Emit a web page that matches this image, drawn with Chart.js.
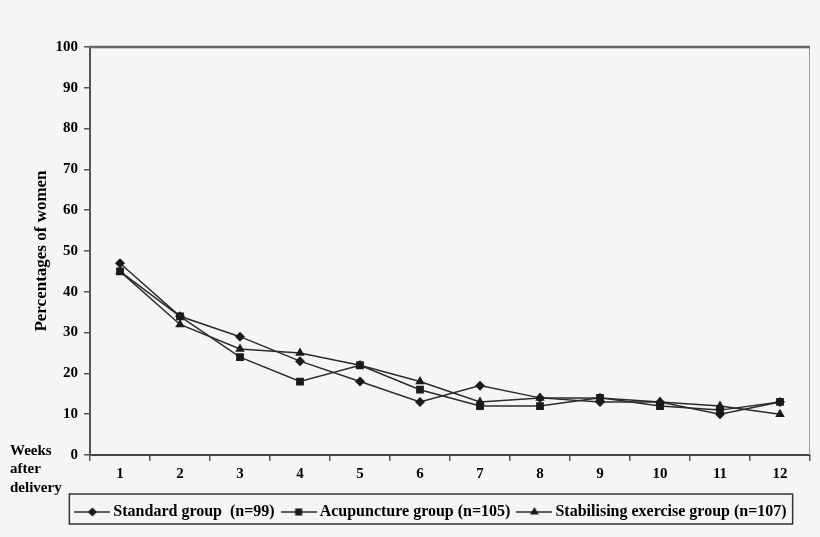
<!DOCTYPE html>
<html>
<head>
<meta charset="utf-8">
<script src="https://cdn.jsdelivr.net/npm/chart.js@4.4.1/dist/chart.umd.min.js"></script>
<style>
  html, body { margin: 0; padding: 0; background: #f5f5f5; }
  #wrap { width: 820px; height: 537px; position: relative; }
</style>
</head>
<body>
<div id="wrap"><canvas id="chart"></canvas></div>
<script>
// ── Données ───────────────────────────────────────────────────
var weeks        = ['1', '2', '3', '4', '5', '6', '7', '8', '9', '10', '11', '12'];
var standard     = [47, 34, 29, 23, 18, 13, 17, 14, 13, 13, 10, 13];
var acupuncture  = [45, 34, 24, 18, 22, 16, 12, 12, 14, 12, 11, 13];
var stabilising  = [45, 32, 26, 25, 22, 18, 13, 14, 14, 13, 12, 10];
var seriesNames  = ['Standard group  (n=99)', 'Acupuncture group (n=105)', 'Stabilising exercise group (n=107)'];
var yTitle       = 'Percentages of women';
var xNote        = ['Weeks', 'after', 'delivery'];

var SERIF = '"Liberation Serif", "Times New Roman", serif';
var INK   = '#2b2b2b';

// petit pictogramme "ligne + marqueur" pour la légende
function legendIcon(style, r) {
    var c = document.createElement('canvas');
    c.width = 36; c.height = 16;
    var g = c.getContext('2d');
    g.strokeStyle = INK; g.lineWidth = 1.5;
    g.beginPath(); g.moveTo(0, 8); g.lineTo(36, 8); g.stroke();
    g.fillStyle = '#1a1a1a';
    g.beginPath();
    if (style === 'rectRot') {
        g.moveTo(18, 8 - r); g.lineTo(18 + r, 8); g.lineTo(18, 8 + r); g.lineTo(18 - r, 8);
    } else if (style === 'rect') {
        var h = r * Math.SQRT1_2;
        g.rect(18 - h, 8 - h, 2 * h, 2 * h);
    } else {
        g.moveTo(18, 8 - r); g.lineTo(18 + r * 0.87, 8 + r * 0.5); g.lineTo(18 - r * 0.87, 8 + r * 0.5);
    }
    g.closePath(); g.fill();
    return c;
}

function series(label, data, style, r) {
    return {
        label: label,
        data: data,
        borderColor: INK,
        borderWidth: 1.5,
        backgroundColor: '#1a1a1a',
        pointStyle: style,
        pointRadius: r,
        pointBorderWidth: 0,
        pointBackgroundColor: '#1a1a1a',
        tension: 0,
        fill: false,
        _icon: legendIcon(style, r - 0.5)
    };
}

// cadre haut/droite + note "Weeks after delivery" + bordure de légende
var decor = {
    id: 'decor',
    afterLayout: function (chart) {
        chart.legend.left += 14;
        chart.legend.right += 14;
    },
    beforeDatasetsDraw: function (chart) {
        var a = chart.chartArea, ctx = chart.ctx;
        ctx.save();
        ctx.strokeStyle = '#9a9a9a'; ctx.lineWidth = 1;
        ctx.beginPath(); ctx.moveTo(a.right - 0.5, a.top); ctx.lineTo(a.right - 0.5, a.bottom); ctx.stroke();
        ctx.strokeStyle = '#666'; ctx.lineWidth = 2.5;
        ctx.beginPath(); ctx.moveTo(a.left, a.top); ctx.lineTo(a.right, a.top); ctx.stroke();
        ctx.restore();
    },
    afterDraw: function (chart) {
        var ctx = chart.ctx, a = chart.chartArea;
        ctx.save();
        ctx.fillStyle = '#000';
        ctx.font = 'bold 15px ' + SERIF;
        ctx.textBaseline = 'middle';
        ctx.textAlign = 'left';
        xNote.forEach(function (t, i) { ctx.fillText(t, 10, a.bottom - 4 + i * 18.5); });

        var hb = chart.legend.legendHitBoxes;
        if (hb && hb.length) {
            var l = hb[0].left, r = hb[hb.length - 1].left + hb[hb.length - 1].width;
            var t = hb[0].top, b = hb[0].top + hb[0].height;
            ctx.strokeStyle = '#333'; ctx.lineWidth = 1.5;
            ctx.strokeRect(l - 10, t - 10, r - l + 16, b - t + 14);
        }
        ctx.restore();
    }
};

new Chart(document.getElementById('chart'), {
    type: 'line',
    data: {
        labels: weeks,
        datasets: [
            series(seriesNames[0], standard, 'rectRot', 5),
            series(seriesNames[1], acupuncture, 'rect', 5.5),
            series(seriesNames[2], stabilising, 'triangle', 5.5)
        ]
    },
    options: {
        responsive: true,
        maintainAspectRatio: false,
        animation: false,
        layout: { padding: { left: 28, right: 10, top: 47, bottom: 7 } },
        plugins: {
            legend: {
                position: 'bottom',
                labels: {
                    usePointStyle: true,
                    pointStyleWidth: 26,
                    boxHeight: 16,
                    padding: 11,
                    color: '#000',
                    font: { family: SERIF, weight: 'bold', size: 16 },
                    generateLabels: function (chart) {
                        return chart.data.datasets.map(function (ds, i) {
                            return {
                                text: ds.label, pointStyle: ds._icon, fillStyle: '#1a1a1a',
                                strokeStyle: INK, lineWidth: 0, hidden: false, datasetIndex: i,
                                fontColor: '#000'
                            };
                        });
                    }
                }
            },
            tooltip: { enabled: false }
        },
        scales: {
            x: {
                offset: true,
                grid: { offset: true, drawOnChartArea: false, drawTicks: true, tickLength: 6, tickColor: '#555', lineWidth: 1.5 },
                border: { display: true, color: '#444', width: 2 },
                ticks: { color: '#000', padding: 4, font: { family: SERIF, weight: 'bold', size: 15 } },
                afterFit: function (s) { s.height = 38; }
            },
            y: {
                min: 0, max: 100,
                grid: { drawOnChartArea: false, drawTicks: true, tickLength: 6, tickColor: '#555', lineWidth: 1.5 },
                border: { display: true, color: '#555', width: 2 },
                ticks: { stepSize: 10, color: '#000', padding: 6, font: { family: SERIF, weight: 'bold', size: 15 } },
                title: { display: true, text: yTitle, color: '#000', padding: { top: 3, bottom: 0 },
                         font: { family: SERIF, weight: 'bold', size: 17 } },
                afterFit: function (s) { s.width = 62; }
            }
        }
    },
    plugins: [decor]
});
</script>
</body>
</html>
